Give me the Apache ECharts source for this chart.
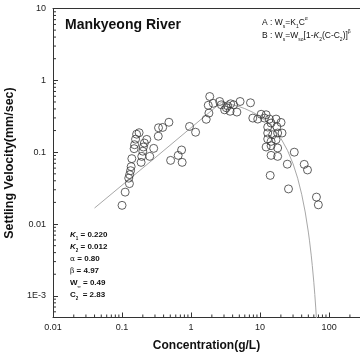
<!DOCTYPE html>
<html>
<head>
<meta charset="utf-8">
<style>html,body{margin:0;padding:0;background:#fff}#c{width:360px;height:354px}</style>
<script src="https://cdn.jsdelivr.net/npm/echarts@6/dist/echarts.min.js"></script>
</head>
<body>
<div id="c"></div>
<script>
// Measured concentration (g/L) and settling velocity (mm/sec)
const concentration = [0.100,0.111,0.128,0.125,0.129,0.133,0.1355,0.1387,0.1496,0.152,0.157,0.1626,0.1767,0.1888,0.1932,0.1998,0.2038,0.2107,0.228,0.252,0.2877,0.335,0.3375,0.388,0.478,0.5057,0.651,0.729,0.743,0.950,1.163,1.658,1.814,1.773,1.863,2.092,2.596,2.746,3.064,3.243,3.385,3.678,3.740,4.13,4.61,5.126,7.26,10.35,7.84,9.25,11.55,13.64,14.43,17.03,20.11,12.89,12.89,12.89,15.21,17.96,20.79,14.43,17.03,12.23,14.43,17.96,14.43,17.96,31.26,24.78,43.55,48.6,14.01,25.78,65.5,69.8,17.49,12.23];
const velocity = [0.0182,0.0278,0.0365,0.0435,0.0487,0.0553,0.0629,0.0813,0.1119,0.127,0.1517,0.178,0.1866,0.0722,0.0874,0.1032,0.118,0.134,0.1506,0.0874,0.113,0.1668,0.2188,0.221,0.261,0.0769,0.0903,0.1073,0.0722,0.228,0.1896,0.287,0.350,0.4497,0.5957,0.479,0.5076,0.4567,0.389,0.415,0.4424,0.371,0.4717,0.4567,0.3617,0.5076,0.487,0.337,0.2985,0.289,0.2985,0.289,0.2544,0.289,0.2594,0.2239,0.1848,0.1526,0.175,0.1848,0.1848,0.1413,0.1492,0.118,0.1231,0.1144,0.0903,0.0874,0.100,0.0681,0.0677,0.0566,0.0475,0.0308,0.0237,0.0185,0.226,0.332];
// Model curve A: Ws = K1 C^alpha
const curveA_C = [0.04, 0.3, 2.83];
const curveA_W = [0.0167, 0.0833, 0.506];
// Model curve B: Ws = Wso[1-K2(C-C2)]^beta
const curveB_C = [2.83,3.5,4,5,6,8,10,12,15,20,25,30,35,40,45,50,52,55,57,60,62,64,65,65.5];
const curveB_W = [0.49,0.4707,0.4567,0.4298,0.4041,0.3564,0.3134,0.2745,0.2236,0.1557,0.1053,0.0690,0.0434,0.0260,0.01473,0.00773,0.00583,0.00369,0.002653,0.001548,0.001043,0.000679,0.000540,0.000479];
// Axes
const xMin = 0.01, xMax = 280, yMin = 0.0005, yMax = 10;
const xTickLabels = {"0.01":"0.01","0.1":"0.1","1":"1","10":"10","100":"100"};
const yTickLabels = {"10":"10","1":"1","0.1":"0.1","0.01":"0.01","0.001":"1E-3"};
const xMinorTicks = [0.02,0.03,0.04,0.05,0.06,0.07,0.08,0.09,0.2,0.3,0.4,0.5,0.6,0.7,0.8,0.9,2,3,4,5,6,7,8,9,20,30,40,50,60,70,80,90,200];
const yMinorTicks = [0.0006,0.0007,0.0008,0.0009,0.002,0.003,0.004,0.005,0.006,0.007,0.008,0.009,0.02,0.03,0.04,0.05,0.06,0.07,0.08,0.09,0.2,0.3,0.4,0.5,0.6,0.7,0.8,0.9,2,3,4,5,6,7,8,9];

const FONT = 'Liberation Sans, Arial, sans-serif';
const AX = '#333';
function lbl(map){ return v => { const k = String(+v.toPrecision(6)); return map[k] !== undefined ? map[k] : ''; }; }

const chart = echarts.init(document.getElementById('c'), null, {renderer:'canvas'});
const zip = (a,b)=>a.map((v,i)=>[v,b[i]]);

chart.setOption({
  animation:false,
  backgroundColor:'#fff',
  grid:{left:53, top:8.5, right:0, bottom:36.5, containLabel:false, outerBoundsMode:'none'},
  xAxis:[{
    type:'log', min:xMin, max:xMax, logBase:10,
    name:'Concentration(g/L)', nameLocation:'middle', nameGap:22.5,
    nameTextStyle:{fontFamily:FONT, fontWeight:'bold', fontSize:12, color:'#111'},
    axisLine:{show:true, onZero:false, lineStyle:{color:AX, width:1}},
    axisTick:{show:true, inside:true, length:5, lineStyle:{color:AX}},
    axisLabel:{formatter:lbl(xTickLabels), fontFamily:FONT, fontSize:9, color:'#222', margin:6},
    splitLine:{show:false}, minorTick:{show:false}
  },{
    type:'log', min:xMin, max:xMax, logBase:10, position:'top',
    axisLine:{show:true, onZero:false, lineStyle:{color:AX, width:1}},
    axisTick:{show:false}, axisLabel:{show:false}, splitLine:{show:false}
  }],
  yAxis:[{
    type:'log', min:yMin, max:yMax, logBase:10,
    name:'Settling Velocity(mm/sec)', nameLocation:'middle', nameGap:35,
    nameTextStyle:{fontFamily:FONT, fontWeight:'bold', fontSize:12.5, color:'#111'},
    axisLine:{show:true, onZero:false, lineStyle:{color:AX, width:1}},
    axisTick:{show:true, inside:true, length:5, lineStyle:{color:AX}},
    axisLabel:{formatter:lbl(yTickLabels), fontFamily:FONT, fontSize:9, color:'#222', margin:7},
    splitLine:{show:false}, minorTick:{show:false}
  }],
  series:[
    {type:'custom', silent:true, clip:false, z:5,
     data: xMinorTicks.map(v=>[v, yMin]),
     renderItem:(p, api)=>{ const c = api.coord([api.value(0), yMin]);
       return {type:'line', shape:{x1:c[0], y1:c[1], x2:c[0], y2:c[1]-3}, style:{stroke:AX, lineWidth:1}}; }},
    {type:'custom', silent:true, clip:false, z:5,
     data: yMinorTicks.map(v=>[xMin, v]),
     renderItem:(p, api)=>{ const c = api.coord([xMin, api.value(1)]);
       return {type:'line', shape:{x1:c[0], y1:c[1], x2:c[0]+3, y2:c[1]}, style:{stroke:AX, lineWidth:1}}; }},
    {type:'line', data:zip(curveA_C, curveA_W), showSymbol:false, symbol:'none', lineStyle:{color:'#a8a8a8', width:1}, z:2},
    {type:'line', data:zip(curveB_C, curveB_W), showSymbol:false, symbol:'none', clip:true, lineStyle:{color:'#a8a8a8', width:1}, z:2},
    {type:'scatter', data:zip(concentration, velocity), symbol:'circle', symbolSize:8,
     itemStyle:{color:'rgba(0,0,0,0)', borderColor:'#3a3a3a', borderWidth:1}, z:3}
  ],
  graphic:[
    {type:'text', left:65, top:18.5, style:{text:'Mankyeong River', fontFamily:FONT, fontWeight:'bold', fontSize:14, fill:'#111'}},
    {type:'text', left:262, top:16, style:{
      text:'{m|A : W}{sb|s}{m|=K}{sb|1}{m|C}{sp|α}\n{m|B : W}{sb|s}{m|=W}{sb|so}{m|[1-}{i|K}{sb|2}{m|(C-C}{sb|2}{m|)]}{sp|β}',
      rich:{
        m:{fontFamily:FONT, fontSize:8.5, lineHeight:13, fill:'#111', verticalAlign:'middle'},
        i:{fontFamily:FONT, fontSize:8.5, fontStyle:'italic', lineHeight:13, fill:'#111', verticalAlign:'middle'},
        sb:{fontFamily:FONT, fontSize:5, lineHeight:5.5, fill:'#111', verticalAlign:'bottom'},
        sp:{fontFamily:FONT, fontSize:5, lineHeight:5.5, fill:'#111', verticalAlign:'top'}
      }}},
    {type:'text', left:70, top:231, style:{
      text:'{k|K}{sb|1}{b| = 0.220}\n{k|K}{sb|2}{b| = 0.012}\n{g|α}{b| = 0.80}\n{g|β}{b| = 4.97}\n{b|W}{sb|∞}{b| = 0.49}\n{b|C}{sb|2}{b|  = 2.83}',
      rich:{
        b:{fontFamily:FONT, fontSize:8, fontWeight:'bold', lineHeight:12, fill:'#111', verticalAlign:'middle'},
        k:{fontFamily:FONT, fontSize:8, fontWeight:'bold', fontStyle:'italic', lineHeight:12, fill:'#111', verticalAlign:'middle'},
        g:{fontFamily:'DejaVu Serif, serif', fontSize:7.5, lineHeight:12, fill:'#111', verticalAlign:'middle'},
        sb:{fontFamily:FONT, fontSize:4.5, fontWeight:'bold', lineHeight:5, fill:'#111', verticalAlign:'bottom'}
      }}}
  ]
});
</script>
</body>
</html>
